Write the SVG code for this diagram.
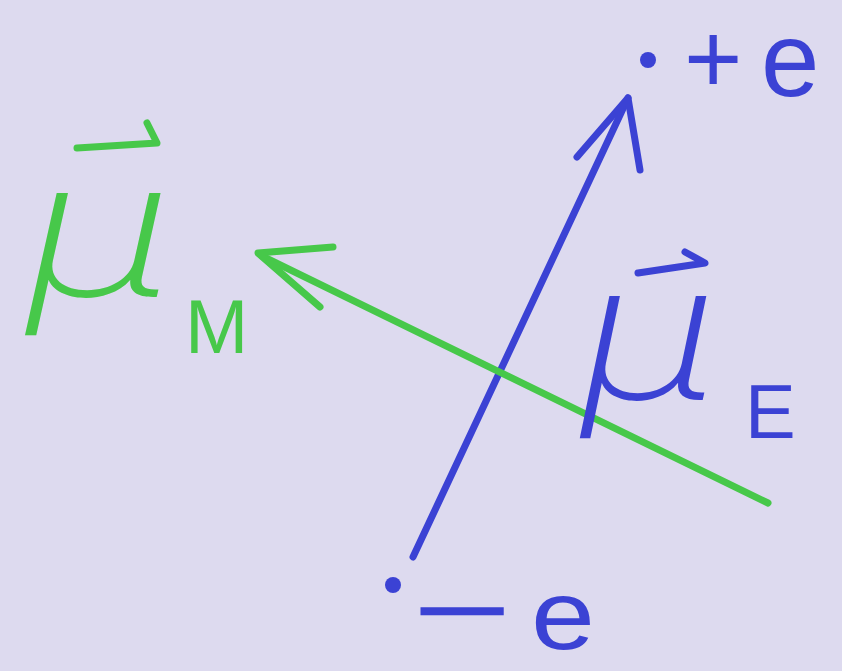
<svg xmlns="http://www.w3.org/2000/svg" width="842" height="671" viewBox="0 0 842 671">
<style>
.bg{fill:#dddaef}
.blue{stroke:#3b42d4;fill:none;stroke-width:7;stroke-linecap:round;stroke-linejoin:round}
.green{stroke:#47c84a;fill:none;stroke-width:7;stroke-linecap:round;stroke-linejoin:round}
.tb{fill:#3b42d4;font-family:"Liberation Sans",Arial,sans-serif}
.tg{fill:#47c84a;font-family:"Liberation Sans",Arial,sans-serif}
.mu{font-family:Inter,"Liberation Sans",sans-serif;font-weight:200;font-style:italic}
</style>
<rect class="bg" x="0" y="0" width="842" height="671"/>
<g id="connectors">
  <g id="dipole-arrow">
    <path class="blue" d="M413,557 L628,98"/>
    <path class="blue" d="M577,157 L628,98 L640,170"/>
  </g>
  <g id="magnetic-arrow">
    <path class="green" d="M768,503 L262,256"/>
    <path class="green" d="M333,247 L258,253 L320,307"/>
  </g>
</g>
<g id="charge-plus">
  <circle cx="648" cy="60" r="8" fill="#3b42d4"/>
  <text class="tb"><tspan x="684" y="93" font-size="100">+</tspan><tspan x="761" y="96" font-size="105">e</tspan></text>
</g>
<g id="charge-minus">
  <circle cx="393" cy="585" r="8" fill="#3b42d4"/>
  <text class="tb" x="412" y="648" font-size="110" textLength="100" lengthAdjust="spacingAndGlyphs">−</text>
  <text class="tb" x="531" y="649" font-size="98" textLength="64" lengthAdjust="spacingAndGlyphs">e</text>
</g>
<g id="label-muM">
  <path class="green" d="M77,148 L157,143 L147,123"/>
  <text class="tg mu" x="22" y="297" font-size="190" textLength="150" lengthAdjust="spacingAndGlyphs">μ</text>
  <text class="tg" x="185" y="353" font-size="76">M</text>
</g>
<g id="label-muE">
  <path class="blue" d="M638,273 L705,263 L685,252"/>
  <text class="tb mu" x="577" y="400" font-size="190" textLength="140" lengthAdjust="spacingAndGlyphs">μ</text>
  <text class="tb" x="745" y="438" font-size="76">E</text>
</g>
</svg>
